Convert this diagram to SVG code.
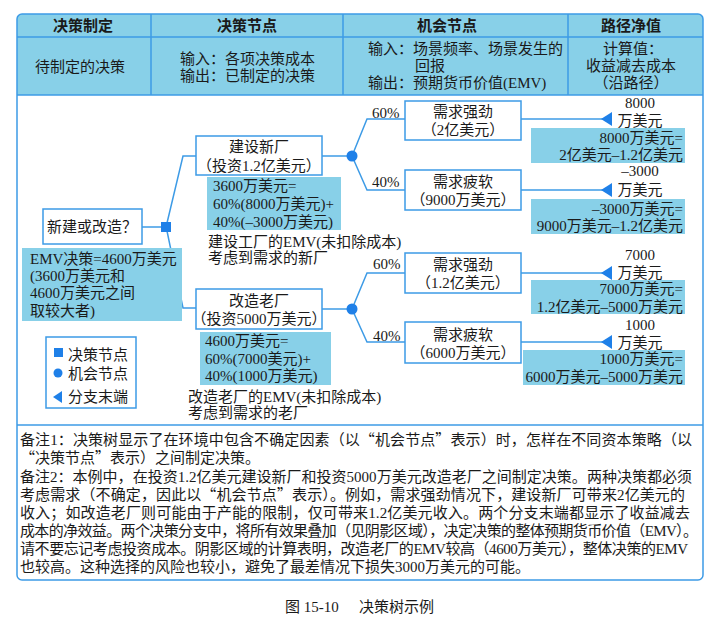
<svg xmlns="http://www.w3.org/2000/svg" width="720" height="621" viewBox="0 0 720 621">
<style>
.t{font-family:"Liberation Serif","Noto Sans CJK SC",serif;font-size:15px;fill:#1a1a1a}
.m{text-anchor:middle}
.e{text-anchor:end}
.q{font-family:"Noto Sans CJK SC",sans-serif}
.h{font-family:"Noto Sans CJK SC",sans-serif;font-weight:700;font-size:15px;fill:#1a1a1a;text-anchor:middle}
.box{fill:#fff;stroke:#3d9be6;stroke-width:1.5}
.sh{fill:#88d0e8}
.ln{stroke:#3d9be6;stroke-width:1.5;fill:none}
.mk{fill:#1f80e8}
</style>
<rect width="720" height="621" fill="#fff"/>
<g id="header">
<path d="M17,95 V19 Q17,14 22,14 H698 Q703,14 703,19 V95 Z" class="sh"/>
<rect x="17" y="14" width="686" height="566" rx="5" fill="none" stroke="#3d9be6" stroke-width="1.5"/>
<line x1="17" y1="37" x2="703" y2="37" class="ln"/>
<line x1="17" y1="95" x2="703" y2="95" class="ln"/>
<line x1="17" y1="425" x2="703" y2="425" class="ln"/>
<line x1="151" y1="14" x2="151" y2="95" class="ln"/>
<line x1="343" y1="14" x2="343" y2="95" class="ln"/>
<line x1="568" y1="14" x2="568" y2="95" class="ln"/>
<text class="h" x="83" y="31">决策制定</text>
<text class="h" x="247" y="31">决策节点</text>
<text class="h" x="447" y="31">机会节点</text>
<text class="h" x="631" y="31">路径净值</text>
<text class="t m" x="80" y="72">待制定的决策</text>
<text class="t" x="180" y="64">输入：各项决策成本</text>
<text class="t" x="180" y="81">输出：已制定的决策</text>
<text class="t" x="368" y="54">输入：场景频率、场景发生的</text>
<text class="t" x="415" y="71">回报</text>
<text class="t" x="368" y="88">输出：预期货币价值(EMV)</text>
<text class="t m" x="633" y="54">计算值：</text>
<text class="t m" x="631" y="71">收益减去成本</text>
<text class="t m" x="631" y="88">（沿路径）</text>
</g>
<g id="connectors">
<line x1="142" y1="227" x2="162" y2="227" class="ln"/>
<polyline points="167,223 183,156 196,156" class="ln"/>
<polyline points="167,231 183,308 196,308" class="ln"/>
<line x1="322" y1="156" x2="348" y2="156" class="ln"/>
<line x1="322" y1="309" x2="348" y2="309" class="ln"/>
<polyline points="352,156 367,119 405,119" class="ln"/>
<polyline points="352,156 367,190 405,190" class="ln"/>
<polyline points="352,309 367,273 405,273" class="ln"/>
<polyline points="352,309 367,342 405,342" class="ln"/>
<line x1="521" y1="119" x2="603" y2="119" class="ln"/>
<line x1="521" y1="190" x2="603" y2="190" class="ln"/>
<line x1="521" y1="273" x2="603" y2="273" class="ln"/>
<line x1="521" y1="342" x2="603" y2="342" class="ln"/>
<text class="t" x="372" y="118">60%</text>
<text class="t" x="372" y="187">40%</text>
<text class="t" x="373" y="269">60%</text>
<text class="t" x="373" y="341">40%</text>
</g>
<g id="decision">
<rect x="43" y="209" width="99" height="35" class="box"/>
<text class="t m" x="92" y="232">新建或改造？</text>
<rect x="161" y="222" width="10" height="10" class="mk"/>
<rect x="22" y="248" width="160" height="73" class="sh"/>
<text class="t" x="30" y="264">EMV决策=4600万美元</text>
<text class="t" x="30" y="281">(3600万美元和</text>
<text class="t" x="30" y="298">4600万美元之间</text>
<text class="t" x="30" y="316">取较大者)</text>
</g>
<g id="new-plant">
<rect x="196" y="136" width="126" height="39" class="box"/>
<text class="t m" x="259" y="152">建设新厂</text>
<text class="t m" x="259" y="171">（投资1.2亿美元）</text>
<circle cx="352" cy="156" r="5.5" class="mk"/>
<rect x="207" y="177" width="134" height="53" class="sh"/>
<text class="t" x="213" y="191">3600万美元=</text>
<text class="t" x="213" y="209">60%(8000万美元)+</text>
<text class="t" x="213" y="227">40%(–3000万美元)</text>
<text class="t" x="208" y="247">建设工厂的EMV(未扣除成本)</text>
<text class="t" x="208" y="263">考虑到需求的新厂</text>
</g>
<g id="old-plant">
<rect x="196" y="289" width="126" height="40" class="box"/>
<text class="t m" x="259" y="306">改造老厂</text>
<text class="t m" x="259" y="324">（投资5000万美元）</text>
<circle cx="352" cy="309" r="5.5" class="mk"/>
<rect x="200" y="332" width="131" height="53" class="sh"/>
<text class="t" x="205" y="346">4600万美元=</text>
<text class="t" x="205" y="364">60%(7000美元)+</text>
<text class="t" x="205" y="381">40%(1000万美元)</text>
<text class="t" x="188" y="402">改造老厂的EMV(未扣除成本)</text>
<text class="t" x="188" y="418">考虑到需求的老厂</text>
</g>
<g id="new-strong">
<rect x="405" y="101" width="116" height="39" class="box"/>
<text class="t m" x="463" y="117">需求强劲</text>
<text class="t m" x="463" y="135">（2亿美元）</text>
<polygon points="601,119 612,112 612,126" class="mk"/>
<text class="t m" x="640" y="108">8000</text>
<text class="t m" x="640" y="126">万美元</text>
<rect x="531" y="128" width="154" height="35" class="sh"/>
<text class="t e" x="683" y="143">8000万美元=</text>
<text class="t e" x="683" y="160">2亿美元–1.2亿美元</text>
</g>
<g id="new-weak">
<rect x="405" y="170" width="116" height="40" class="box"/>
<text class="t m" x="463" y="187">需求疲软</text>
<text class="t m" x="463" y="205">（9000万美元）</text>
<polygon points="601,190 612,183 612,197" class="mk"/>
<text class="t m" x="640" y="176">–3000</text>
<text class="t m" x="640" y="195">万美元</text>
<rect x="531" y="199" width="154" height="35" class="sh"/>
<text class="t e" x="683" y="214">–3000万美元=</text>
<text class="t e" x="683" y="231">9000万美元–1.2亿美元</text>
</g>
<g id="old-strong">
<rect x="405" y="253" width="116" height="40" class="box"/>
<text class="t m" x="463" y="270">需求强劲</text>
<text class="t m" x="463" y="288">（1.2亿美元）</text>
<polygon points="601,273 612,266 612,280" class="mk"/>
<text class="t m" x="640" y="260">7000</text>
<text class="t m" x="640" y="278">万美元</text>
<rect x="531" y="280" width="154" height="34" class="sh"/>
<text class="t e" x="683" y="294">7000万美元=</text>
<text class="t e" x="683" y="312">1.2亿美元–5000万美元</text>
</g>
<g id="old-weak">
<rect x="405" y="322" width="116" height="41" class="box"/>
<text class="t m" x="463" y="340">需求疲软</text>
<text class="t m" x="463" y="358">（6000万美元）</text>
<polygon points="601,342 612,335 612,349" class="mk"/>
<text class="t m" x="640" y="330">1000</text>
<text class="t m" x="640" y="348">万美元</text>
<rect x="523" y="350" width="162" height="35" class="sh"/>
<text class="t e" x="683" y="364">1000万美元=</text>
<text class="t e" x="683" y="382">6000万美元–5000万美元</text>
</g>
<g id="legend">
<rect x="46" y="337" width="90" height="71" class="box"/>
<rect x="54" y="348" width="9" height="9" class="mk"/>
<text class="t" x="68" y="360">决策节点</text>
<circle cx="58" cy="373" r="4.5" class="mk"/>
<text class="t" x="68" y="379">机会节点</text>
<polygon points="53,397 62,391 62,403" class="mk"/>
<text class="t" x="68" y="402">分支末端</text>
</g>
<g id="notes">
<text class="t" x="20" y="445" textLength="672" lengthAdjust="spacing">备注1：决策树显示了在环境中包含不确定因素（以<tspan class="q">“</tspan>机会节点<tspan class="q">”</tspan>表示）时，怎样在不同资本策略（以</text>
<text class="t" x="20" y="463"><tspan class="q">“</tspan>决策节点<tspan class="q">”</tspan>表示）之间制定决策。</text>
<text class="t" x="20" y="482" textLength="672" lengthAdjust="spacing">备注2：本例中，在投资1.2亿美元建设新厂和投资5000万美元改造老厂之间制定决策。两种决策都必须</text>
<text class="t" x="20" y="500" textLength="665" lengthAdjust="spacing">考虑需求（不确定，因此以<tspan class="q">“</tspan>机会节点<tspan class="q">”</tspan>表示）。例如，需求强劲情况下，建设新厂可带来2亿美元的</text>
<text class="t" x="20" y="518" textLength="670" lengthAdjust="spacing">收入；如改造老厂则可能由于产能的限制，仅可带来1.2亿美元收入。两个分支末端都显示了收益减去</text>
<text class="t" x="20" y="536" textLength="678" lengthAdjust="spacing">成本的净效益。两个决策分支中，将所有效果叠加（见阴影区域），决定决策的整体预期货币价值（EMV）。</text>
<text class="t" x="20" y="554" textLength="668" lengthAdjust="spacing">请不要忘记考虑投资成本。阴影区域的计算表明，改造老厂的EMV较高（4600万美元），整体决策的EMV</text>
<text class="t" x="20" y="572">也较高。这种选择的风险也较小，避免了最差情况下损失3000万美元的可能。</text>
</g>
<g id="caption">
<text class="t" x="285" y="612">图 15-10</text>
<text class="t" x="359" y="612">决策树示例</text>
</g>
</svg>
